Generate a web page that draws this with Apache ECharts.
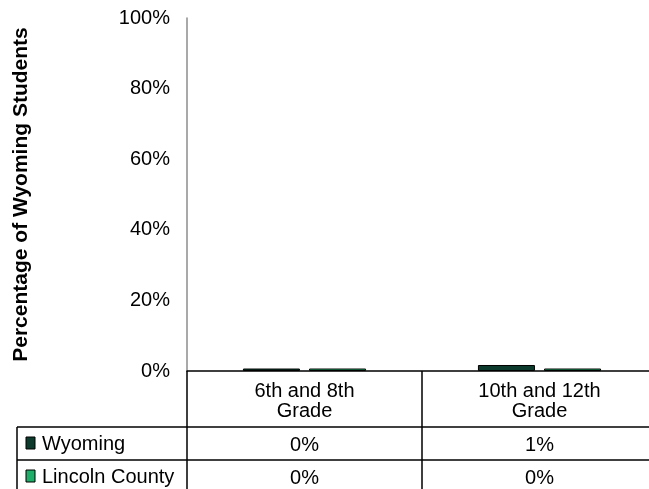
<!DOCTYPE html>
<html><head><meta charset="utf-8">
<script src="https://cdn.jsdelivr.net/npm/echarts@6/dist/echarts.min.js"></script>
<style>html,body{margin:0;padding:0;background:#fff}#c{width:649px;height:489px}</style>
</head><body><div id="c"></div>
<script>
const categories = ['6th and 8th\nGrade', '10th and 12th\nGrade'];
const wyomingValues = [0.7, 1.7];
const lincolnValues = [0.7, 0.7];
const wyomingLabels = ['0%', '1%'];
const lincolnLabels = ['0%', '0%'];
const yTicks = [0, 20, 40, 60, 80, 100];
const seriesNames = ['Wyoming', 'Lincoln County'];
const colors = ['#0c3b2d', '#1fae69'];

const FONT = 'Liberation Sans, Arial, sans-serif';
const chart = echarts.init(document.getElementById('c'));

chart.setOption({
  animation: false,
  grid: { left: 187, top: 18, width: 470, height: 353, outerBoundsMode: 'none', containLabel: false },
  xAxis: [
    { type: 'category', data: categories, position: 'bottom',
      axisLine: { lineStyle: { color: '#000', width: 1.5 } },
      axisTick: { show: true, length: 125, lineStyle: { color: '#000', width: 1.5 } },
      axisLabel: { fontFamily: FONT, fontSize: 20, color: '#000', lineHeight: 20, margin: 10, interval: 0 } },
    { type: 'category', data: categories, position: 'bottom', offset: 56,
      axisLine: { show: false }, axisTick: { show: false },
      axisLabel: { fontFamily: FONT, fontSize: 20, color: '#000', margin: 18, verticalAlign: 'middle', interval: 0,
        formatter: (v, i) => wyomingLabels[i] } },
    { type: 'category', data: categories, position: 'bottom', offset: 89,
      axisLine: { show: false }, axisTick: { show: false },
      axisLabel: { fontFamily: FONT, fontSize: 20, color: '#000', margin: 18, verticalAlign: 'middle', interval: 0,
        formatter: (v, i) => lincolnLabels[i] } }
  ],
  yAxis: {
    type: 'value', min: yTicks[0], max: yTicks[yTicks.length - 1], interval: 20,
    name: 'Percentage of Wyoming Students', nameLocation: 'middle', nameGap: 155,
    nameTextStyle: { fontFamily: FONT, fontSize: 21, fontWeight: 'bold', color: '#000' },
    axisLine: { show: true, lineStyle: { color: '#8c8c8c', width: 1.5 } },
    axisTick: { show: false },
    splitLine: { show: false },
    axisLabel: { fontFamily: FONT, fontSize: 20, color: '#000', margin: 17, formatter: v => v + '%' }
  },
  series: [
    { name: seriesNames[0], type: 'bar', data: wyomingValues, barWidth: 57, barGap: '16%',
      itemStyle: { color: colors[0], borderColor: '#000', borderWidth: 1 } },
    { name: seriesNames[1], type: 'bar', data: lincolnValues, barWidth: 57, barGap: '16%',
      itemStyle: { color: colors[1], borderColor: '#000', borderWidth: 1 } }
  ],
  graphic: [
    { type: 'line', shape: { x1: 17, y1: 427, x2: 649, y2: 427 }, style: { stroke: '#000', lineWidth: 1.5 } },
    { type: 'line', shape: { x1: 17, y1: 460, x2: 649, y2: 460 }, style: { stroke: '#000', lineWidth: 1.5 } },
    { type: 'line', shape: { x1: 17, y1: 427, x2: 17, y2: 489 }, style: { stroke: '#000', lineWidth: 1.5 } },
    { type: 'rect', shape: { x: 26, y: 437, width: 9, height: 12 }, style: { fill: colors[0], stroke: '#000', lineWidth: 1 } },
    { type: 'rect', shape: { x: 26, y: 470, width: 9, height: 12 }, style: { fill: colors[1], stroke: '#000', lineWidth: 1 } },
    { type: 'text', x: 42, y: 444, style: { text: seriesNames[0], font: '20px ' + FONT, fill: '#000', verticalAlign: 'middle' } },
    { type: 'text', x: 42, y: 477, style: { text: seriesNames[1], font: '20px ' + FONT, fill: '#000', verticalAlign: 'middle' } }
  ]
});
</script></body></html>
